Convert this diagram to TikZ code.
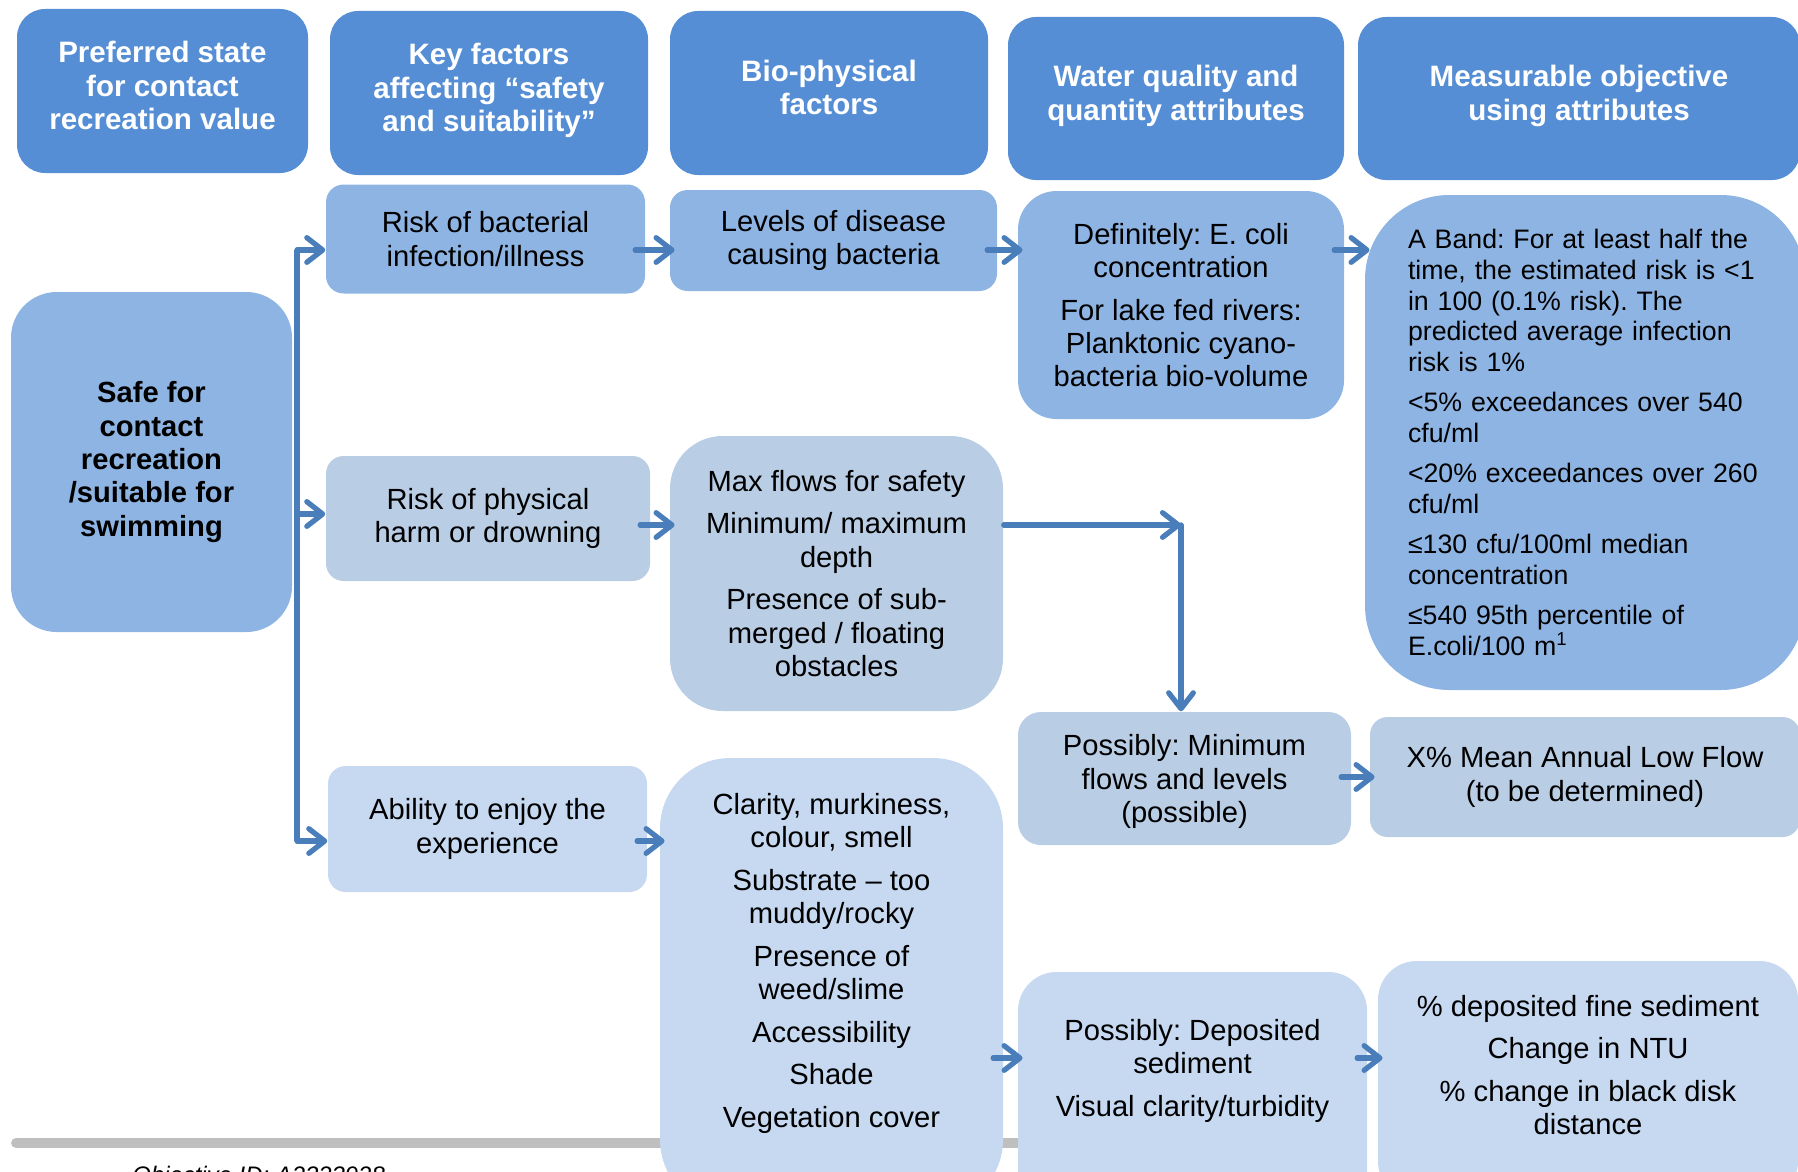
\documentclass[tikz,border=0pt]{standalone}
\usepackage{fontspec}
\setmainfont{Liberation Sans}
\usetikzlibrary{arrows.meta}
\definecolor{hdrblue}{HTML}{558ED5}
\definecolor{rowA}{HTML}{8EB4E3}
\definecolor{rowB}{HTML}{B9CDE5}
\definecolor{rowC}{HTML}{C6D9F1}
\definecolor{linkblue}{HTML}{4A7EBB}
\newdimen\pxu \pxu=0.1mm
\newcommand\bodyfont{\fontsize{8.3}{9.5}\selectfont\frenchspacing}
\newcommand\hdrfont{\fontsize{8.4}{9.6}\selectfont\bfseries}
\newcommand\bandfont{\fontsize{7.6}{8.8}\selectfont\frenchspacing}
\newcommand\gap{\\[2.6pt]}
\begin{document}
\begin{tikzpicture}[x=0.1mm, y=-0.1mm,
    sz/.style 2 args={minimum width=#1\pxu, minimum height=#2\pxu},
    hdr/.style={fill=hdrblue, text=white, font=\hdrfont, align=center, inner sep=0pt, rounded corners=8pt},
    boxA/.style={fill=rowA, font=\bodyfont, align=center, inner sep=0pt},
    boxB/.style={fill=rowB, font=\bodyfont, align=center, inner sep=0pt},
    boxC/.style={fill=rowC, font=\bodyfont, align=center, inner sep=0pt},
    trunk/.style={draw=linkblue, line width=1.5pt},
    link/.style={trunk, line cap=round, -{Straight Barb[round, length=4.5pt, width=7pt]}},
    hop/.style={link, shorten <=-3pt, shorten >=-1.5pt}]
    \useasboundingbox (0,0) rectangle (1798,1171);
    \draw[line width=2.8pt, line cap=round, black!25] (16,1143) -- (1020,1143);
    \node[font=\fontsize{6.8}{8}\selectfont\itshape, anchor=base west] (objid) at (120,1183) {Objective ID: A2323928};
    % column heads
    \node[hdr, sz={291}{164}, text depth=3.2pt] (hpref) at (162.5,91) {Preferred state\\for contact\\recreation value};
    \node[hdr, sz={318}{164}, text depth=3.2pt] (hkey) at (489,93) {Key factors\\affecting “safety\\and suitability”};
    \node[hdr, sz={318}{164}, text depth=3.2pt] (hbio) at (829,93) {Bio-physical\\factors};
    \node[hdr, sz={336}{163}, text depth=3.2pt] (hwq) at (1176,98.5) {Water quality and\\quantity attributes};
    \node[hdr, sz={442}{163}, text depth=3.2pt] (hobj) at (1579,98.5) {Measurable objective\\using attributes};
    % value
    \node[boxA, sz={281}{340}, rounded corners=13pt, font=\bodyfont\bfseries] (safe) at (151.5,462) {Safe for\\contact\\recreation\\/suitable for\\swimming};
    % bacteria row
    \node[boxA, sz={319}{109}, rounded corners=5pt] (bact) at (485.5,239) {Risk of bacterial\\infection/illness};
    \node[boxA, sz={327}{101}, rounded corners=5pt] (levels) at (833.5,240.5) {Levels of disease\\causing bacteria};
    \node[boxA, sz={326}{228}, rounded corners=11pt] (ecoli) at (1181,305) {Definitely: E. coli\\concentration\gap For lake fed rivers:\\Planktonic cyano-\\bacteria bio-volume};
    \node[boxA, minimum height=495\pxu, text width=354\pxu, inner xsep=43\pxu, align=left, rounded corners=24pt, font=\bandfont] (band) at (1585,442.5)
        {A Band: For at least half the\\time, the estimated risk is <1\\in 100 (0.1\% risk). The\\predicted average infection\\risk is 1\%\gap
         <5\% exceedances over 540\\cfu/ml\gap <20\% exceedances over 260\\cfu/ml\gap ≤130 cfu/100ml median\\concentration\gap
         ≤540 95th percentile of\\E.coli/100 m\textsuperscript{1}};
    % physical row
    \node[boxB, sz={324}{125}, rounded corners=5pt] (physical) at (488,518.5) {Risk of physical\\harm or drowning};
    \node[boxB, sz={333}{275}, rounded corners=15pt] (maxflow) at (836.5,573.5) {Max flows for safety\gap Minimum/ maximum\\depth\gap Presence of sub-\\merged / floating\\obstacles};
    \node[boxB, sz={333}{133}, rounded corners=6.5pt, text depth=0pt] (minflow) at (1184.5,778.5) {Possibly: Minimum\\flows and levels\\(possible)};
    \node[boxB, sz={430}{120}, rounded corners=5pt] (lowflow) at (1585,777) {X\% Mean Annual Low Flow\\(to be determined)};
    % experience row
    \node[boxC, sz={319}{126}, rounded corners=5pt] (enjoy) at (487.5,829) {Ability to enjoy the\\experience};
    \node[boxC, sz={343}{452}, rounded corners=20pt, text depth=13.6pt] (clarity) at (831.5,984)
        {Clarity, murkiness,\\colour, smell\gap Substrate -- too\\muddy/rocky\gap Presence of\\weed/slime\gap Accessibility\gap Shade\gap Vegetation cover};
    \node[boxC, sz={349}{238}, rounded corners=11pt, text depth=13.1pt] (sedim) at (1192.5,1091) {Possibly: Deposited\\sediment\gap Visual clarity/turbidity};
    \node[boxC, sz={420}{239}, rounded corners=11pt, text depth=8.8pt] (sedobj) at (1588,1080.5) {\% deposited fine sediment\gap Change in NTU\gap \% change in black disk\\distance};
    % connectors
    \coordinate (r1) at (297,250);
    \coordinate (r2) at (297,514);
    \coordinate (r3) at (297,841);
    \coordinate (bend) at (1181,525);
    \coordinate (lowrow) at (1010,1058);
    \draw[trunk] (r1) -- (r3);
    \draw[link] (r1) -- (bact.west |- r1);
    \draw[link] (r2) -- (physical.west |- r2);
    \draw[link] (r3) -- (enjoy.west |- r3);
    \draw[hop] (bact.east |- r1) -- (levels.west |- r1);
    \draw[hop] (levels.east |- r1) -- (ecoli.west |- r1);
    \draw[hop] (ecoli.east |- r1) -- (band.west |- r1);
    \draw[hop] (physical.east |- bend) -- (maxflow.west |- bend);
    \draw[link] (maxflow.east |- bend) -- (bend);
    \draw[link] (bend) -- (bend |- minflow.north);
    \draw[hop] (minflow.east |- lowflow.west) -- (lowflow.west);
    \draw[hop] (enjoy.east |- r3) -- (clarity.west |- r3);
    \draw[hop] (clarity.east |- lowrow) -- (sedim.west |- lowrow);
    \draw[hop] (sedim.east |- lowrow) -- (sedobj.west |- lowrow);
\end{tikzpicture}
\end{document}
